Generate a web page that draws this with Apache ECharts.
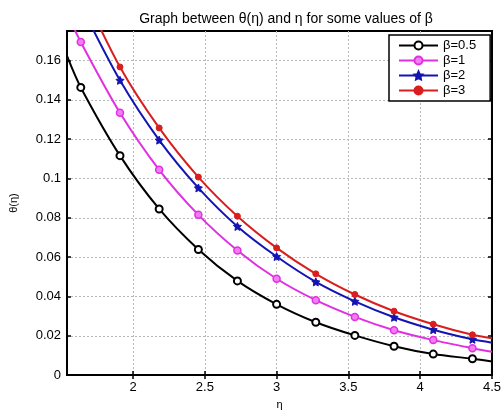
<!DOCTYPE html>
<html>
<head>
<meta charset="utf-8">
<script src="https://cdn.jsdelivr.net/npm/echarts@6/dist/echarts.min.js"></script>
<style>html,body{margin:0;padding:0;background:#fff}#c{width:504px;height:415px}</style>
</head>
<body>
<div id="c"></div>
<script>
// eta positions: plot edges (1.54, 4.5) and marker points
const eta = [1.54, 1.636, 1.909, 2.182, 2.455, 2.727, 3.0, 3.273, 3.545, 3.818, 4.091, 4.364, 4.5];
const beta05 = [0.1623, 0.1463, 0.1116, 0.0845, 0.0639, 0.0479, 0.0360, 0.0269, 0.0202, 0.0147, 0.0107, 0.0083, 0.0069];
const beta1  = [0.184, 0.1694, 0.1334, 0.1044, 0.0815, 0.0634, 0.0490, 0.0381, 0.0296, 0.0228, 0.0178, 0.0137, 0.0119];
const beta2  = [0.202, 0.188, 0.1499, 0.1195, 0.0952, 0.0756, 0.0603, 0.0474, 0.0375, 0.0294, 0.0231, 0.0182, 0.0165];
const beta3  = [0.212, 0.197, 0.1567, 0.1257, 0.1007, 0.0808, 0.0647, 0.0515, 0.0410, 0.0325, 0.0259, 0.0205, 0.0187];
const seriesNames = ['β=0.5', 'β=1', 'β=2', 'β=3'];
const xTicks = [2, 2.5, 3, 3.5, 4, 4.5];
const yTicks = [0, 0.02, 0.04, 0.06, 0.08, 0.1, 0.12, 0.14, 0.16];

const FONT = '"Liberation Sans", Arial, Helvetica, sans-serif';
function pts(ys) {
  return eta.map((x, i) => {
    const edge = (i === 0 || i === eta.length - 1);
    return edge ? { value: [x, ys[i]], symbol: 'none' } : { value: [x, ys[i]] };
  });
}
const styles = [
  { color: '#000000', symbol: 'emptyCircle', size: 7, item: { color: '#000', borderColor: '#000', borderWidth: 1.5 } },
  { color: '#e030e0', symbol: 'circle', size: 7, item: { color: '#f27cf2', borderColor: '#e030e0', borderWidth: 1.5 } },
  { color: '#1414b4', symbol: 'path://M0,-10 L2.9,-4 L9.5,-3.1 L4.8,1.5 L5.9,8.1 L0,5 L-5.9,8.1 L-4.8,1.5 L-9.5,-3.1 L-2.9,-4 Z', size: 8, item: { color: '#1414b4', borderColor: '#1414b4', borderWidth: 1 } },
  { color: '#d81e1e', symbol: 'circle', size: 6, item: { color: '#d81e1e', borderColor: '#d81e1e', borderWidth: 1 } }
];
const dataSets = [beta05, beta1, beta2, beta3];

const chart = echarts.init(document.getElementById('c'), null, { renderer: 'canvas' });
const axisLineStyle = { color: '#000', width: 2 };
chart.setOption({
  animation: false,
  backgroundColor: '#fff',
  textStyle: { fontFamily: FONT },
  title: {
    text: 'Graph between θ(η) and η for some values of β',
    left: 281, top: 7, textAlign: 'center',
    textStyle: { fontSize: 14, fontWeight: 'normal', color: '#000', fontFamily: FONT }
  },
  grid: { left: 67, right: 11, top: 31, bottom: 30, show: true, borderColor: '#000', borderWidth: 2, backgroundColor: '#fff' },
  legend: {
    orient: 'vertical', left: 389, top: 35,
    padding: [3, 14, 3, 9], itemGap: 0, itemWidth: 39, itemHeight: 10,
    backgroundColor: '#fff', borderColor: '#000', borderWidth: 1.5, borderRadius: 0,
    textStyle: { fontSize: 13, color: '#000', lineHeight: 15, fontFamily: FONT },
    data: seriesNames
  },
  xAxis: [{
    type: 'value', min: 1.54, max: 4.5,
    name: 'η', nameLocation: 'middle', nameGap: 20,
    nameTextStyle: { fontSize: 11, color: '#000', fontFamily: FONT },
    axisLine: { show: true, lineStyle: axisLineStyle },
    axisTick: { show: true, inside: true, length: 4, customValues: xTicks, lineStyle: { color: '#000', width: 1.5 } },
    axisLabel: { customValues: xTicks, color: '#000', fontSize: 13, margin: 6, fontFamily: FONT },
    splitLine: { show: true, lineStyle: { color: '#b8b8b8', type: [2, 2], width: 1 } }
  }, {
    type: 'value', min: 1.54, max: 4.5, position: 'top',
    axisLine: { show: true, lineStyle: axisLineStyle },
    axisTick: { show: true, inside: true, length: 4, customValues: xTicks, lineStyle: { color: '#000', width: 1.5 } },
    axisLabel: { show: false }, splitLine: { show: false }
  }],
  yAxis: [{
    type: 'value', min: 0, max: 0.175,
    name: 'θ(η)', nameLocation: 'middle', nameGap: 48,
    nameTextStyle: { fontSize: 11, color: '#000', fontFamily: FONT },
    axisLine: { show: true, lineStyle: axisLineStyle },
    axisTick: { show: true, inside: true, length: 4, customValues: yTicks, lineStyle: { color: '#000', width: 1.5 } },
    axisLabel: { customValues: yTicks, color: '#000', fontSize: 13, margin: 6, fontFamily: FONT },
    splitLine: { show: true, lineStyle: { color: '#b8b8b8', type: [2, 2], width: 1 } }
  }, {
    type: 'value', min: 0, max: 0.175, position: 'right',
    axisLine: { show: true, lineStyle: axisLineStyle },
    axisTick: { show: true, inside: true, length: 4, customValues: yTicks, lineStyle: { color: '#000', width: 1.5 } },
    axisLabel: { show: false }, splitLine: { show: false }
  }],
  series: dataSets.map((ys, k) => ({
    name: seriesNames[k],
    type: 'line',
    xAxisIndex: 0, yAxisIndex: 0,
    smooth: 0.3,
    clip: true,
    symbol: styles[k].symbol,
    symbolSize: styles[k].size,
    showAllSymbol: true,
    lineStyle: { color: styles[k].color, width: 2 },
    itemStyle: styles[k].item,
    color: styles[k].color,
    data: pts(ys),
    z: 2 + k
  }))
});
</script>
</body>
</html>
